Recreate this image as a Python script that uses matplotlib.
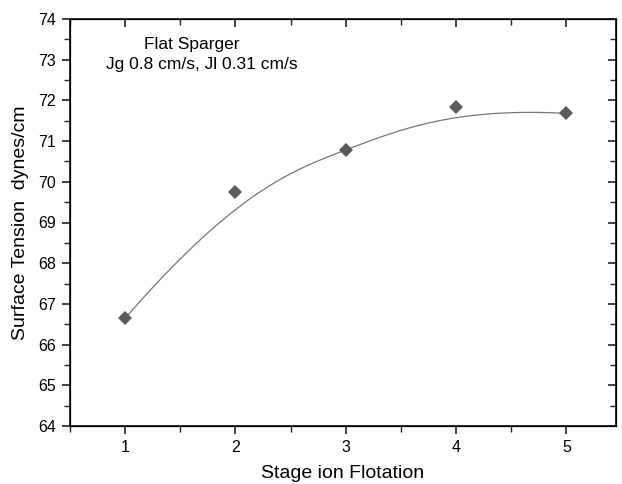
import numpy as np
import matplotlib.pyplot as plt
from matplotlib.ticker import MultipleLocator

plt.rcParams['font.family'] = ['Liberation Sans', 'DejaVu Sans']

# data
stage = [1, 2, 3, 4, 5]
tension = [66.65, 69.76, 70.77, 71.83, 71.68]


def bspline(px, py, n=200, k=3):
    # clamped B-spline using the data points as control points
    m = len(px)
    inner = np.linspace(0, 1, m - k + 1)[1:-1]
    t = np.concatenate([np.zeros(k + 1), inner, np.ones(k + 1)])
    u = np.linspace(0, 1, n)
    u[-1] = 1 - 1e-12
    N = np.zeros((n, len(t) - 1))
    for i in range(len(t) - 1):
        N[:, i] = ((u >= t[i]) & (u < t[i + 1])).astype(float)
    for d in range(1, k + 1):
        newN = np.zeros((n, len(t) - 1 - d))
        for i in range(len(t) - 1 - d):
            a = 0 if t[i + d] == t[i] else (u - t[i]) / (t[i + d] - t[i]) * N[:, i]
            b = 0 if t[i + d + 1] == t[i + 1] else (t[i + d + 1] - u) / (t[i + d + 1] - t[i + 1]) * N[:, i + 1]
            newN[:, i] = a + b
        N = newN
    return N @ np.asarray(px, float), N @ np.asarray(py, float)


fig = plt.figure(figsize=(6.22, 4.84), dpi=100)
ax = fig.add_axes([70/622, 1-426/484, 546/622, 407/484])

xs, ys = bspline(stage, tension)
ax.plot(xs, ys, color='#777777', lw=0.9)
ax.plot(stage, tension, 'D', color='#5a5a5a', markersize=7, markeredgewidth=0)

xlim = (0.5, 5.45)
ylim = (64, 74)
ax.set_xlim(*xlim)
ax.set_ylim(*ylim)
for a in (ax.xaxis, ax.yaxis):
    a.set_major_locator(MultipleLocator(1))
    a.set_minor_locator(MultipleLocator(0.5))
ax.tick_params(which='both', direction='out', labelsize=11.5, colors='#222222', pad=4)
ax.tick_params(which='major', length=6, width=1.2)
ax.tick_params(which='minor', length=4, width=1.0)
ax.tick_params(labelcolor='black')
for s in ax.spines.values():
    s.set_linewidth(1.3)
    s.set_color('#222222')

# top and right ticks point inward
axt = ax.twiny()
axr = ax.twinx()
axt.set_xlim(*xlim)
axr.set_ylim(*ylim)
for a in (axt.xaxis, axr.yaxis):
    a.set_major_locator(MultipleLocator(1))
    a.set_minor_locator(MultipleLocator(0.5))
axt.tick_params(which='both', direction='in', labeltop=False, colors='#222222')
axr.tick_params(which='both', direction='in', labelright=False, colors='#222222')
for a in (axt, axr):
    a.tick_params(which='major', length=6, width=1.2)
    a.tick_params(which='minor', length=4, width=1.0)

ax.set_xlabel('Stage ion Flotation', fontsize=14, labelpad=7)
ax.set_ylabel('Surface Tension  dynes/cm', fontsize=14, labelpad=7)

ax.text(192/622, 1-44/484, 'Flat Sparger', transform=fig.transFigure,
        ha='center', va='center', fontsize=12.5)
ax.text(202/622, 1-65/484, 'Jg 0.8 cm/s, Jl 0.31 cm/s', transform=fig.transFigure,
        ha='center', va='center', fontsize=12.5)

fig.savefig('out.png', dpi=100)
